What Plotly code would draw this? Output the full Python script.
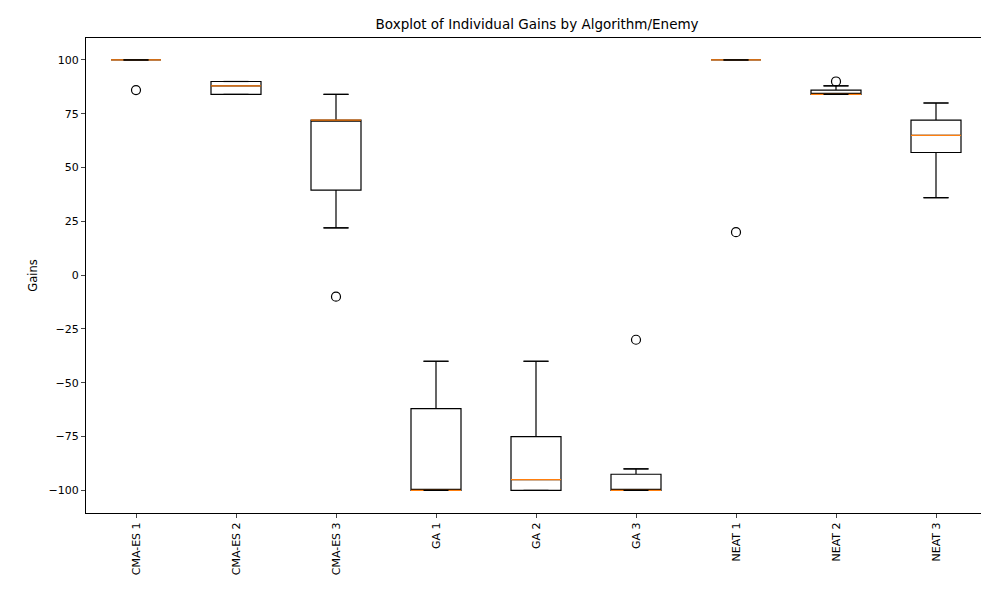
import plotly.graph_objects as go

labels = ["CMA-ES 1", "CMA-ES 2", "CMA-ES 3", "GA 1", "GA 2", "GA 3", "NEAT 1", "NEAT 2", "NEAT 3"]
q1 = [100, 84, 39.5, -100, -100, -100, 100, 84, 57]
median = [100, 88, 72, -100, -95, -100, 100, 84, 65]
q3 = [100, 90, 72, -62, -75, -92.5, 100, 86, 72]
lower = [100, 84, 22, -100, -100, -100, 100, 84, 36]
upper = [100, 90, 84, -40, -40, -90, 100, 88, 80]
outlier_x = ["CMA-ES 1", "CMA-ES 3", "GA 3", "NEAT 1", "NEAT 2"]
outlier_y = [86, -10, -30, 20, 90]

pos = list(range(1, len(labels) + 1))
fig = go.Figure()
fig.add_trace(go.Box(
    x=pos, q1=q1, median=median, q3=q3, lowerfence=lower, upperfence=upper,
    width=0.5, fillcolor="white", line=dict(color="black", width=1.2),
    whiskerwidth=0.5, boxpoints=False, showlegend=False, hoverinfo="skip",
))
fig.add_trace(go.Scatter(
    x=[pos[labels.index(l)] for l in outlier_x], y=outlier_y, mode="markers",
    marker=dict(symbol="circle-open", size=9, color="black", line=dict(width=1.2)),
    showlegend=False,
))
shapes = []
for p, m in zip(pos, median):
    shapes.append(dict(type="line", x0=p - 0.25, x1=p + 0.25, y0=m, y1=m,
                       line=dict(color="#ff7f0e", width=1.2)))
for p, lo, hi in zip(pos, lower, upper):
    for v in (lo, hi):
        shapes.append(dict(type="line", x0=p - 0.125, x1=p + 0.125, y0=v, y1=v,
                           line=dict(color="black", width=1.2)))
fig.update_layout(
    shapes=shapes,
    width=989, height=590,
    title=dict(text="Boxplot of Individual Gains by Algorithm/Enemy", x=0.535, xanchor="center",
               y=1 - 16 / 590, yanchor="middle", automargin=False,
               font=dict(size=13.5, color="black")),
    font=dict(family="DejaVu Sans", size=11, color="black"),
    plot_bgcolor="white", paper_bgcolor="white",
    margin=dict(l=78, r=11, t=30, b=85, autoexpand=False),
    xaxis=dict(range=[0.5, 9.5], tickvals=pos, ticktext=labels, tickangle=-90,
               showgrid=False, zeroline=False, showline=True, linecolor="black",
               mirror=True, ticks="outside", ticklen=4, automargin=False),
    yaxis=dict(range=[-110.5, 110.2], tickvals=[-100, -75, -50, -25, 0, 25, 50, 75, 100],
               title=dict(text="Gains", standoff=8, font=dict(size=11.5)), showgrid=False,
               zeroline=False, automargin=False,
               showline=True, linecolor="black", mirror=True, ticks="outside", ticklen=4),
)
fig.write_html("out.html")
